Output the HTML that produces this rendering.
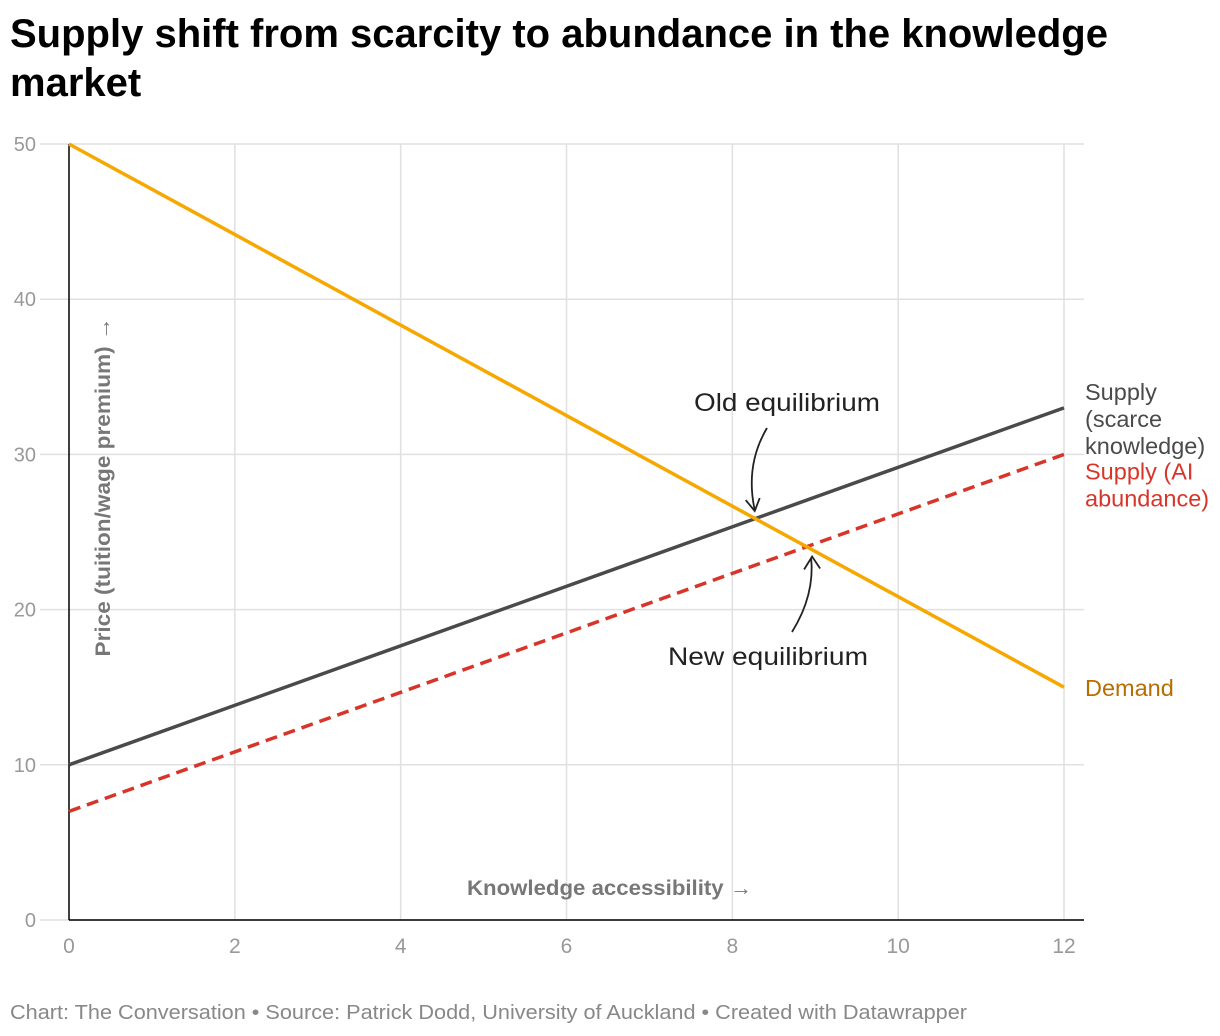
<!DOCTYPE html>
<html><head><meta charset="utf-8"><style>
body{margin:0;background:#fff;width:1220px;height:1036px;overflow:hidden;font-family:"Liberation Sans",sans-serif}
h1{position:absolute;left:10px;top:10px;margin:0;font-size:40px;line-height:49px;font-weight:bold;color:#000;width:1160px;letter-spacing:0px}
</style></head><body>
<h1>Supply shift from scarcity to abundance in the knowledge market</h1>
<svg id="chart" width="1220" height="1036" style="position:absolute;left:0;top:0"></svg>
<script>
const xTicks=[0,2,4,6,8,10,12];
const yTicks=[0,10,20,30,40,50];
const xs=[0,12];
const demand=[50,15];
const supplyScarce=[10,33];
const supplyAI=[7,30];
const oldEq=[8.27,25.9];
const newEq=[8.95,24.0];
const NS='http://www.w3.org/2000/svg';
const svg=document.getElementById('chart');
const X=v=>69+v*(1064-69)/12;
const Y=v=>920-v*(920-144)/50;
function mk(t,a){const e=document.createElementNS(NS,t);for(const k in a)e.setAttribute(k,a[k]);svg.appendChild(e);return e;}
yTicks.forEach(t=>{
 const l=mk('line',{x1:40,x2:1084,y1:Y(t),y2:Y(t),stroke:'#e0e0e0','stroke-width':1.5});
 
 
 const tx=mk('text',{x:36,y:Y(t)+7,'text-anchor':'end','font-size':20,fill:'#999'});tx.textContent=t;
 
 
});
xTicks.forEach(t=>{
 if(t>0){const l=mk('line',{x1:X(t),x2:X(t),y1:144,y2:920,stroke:'#e0e0e0','stroke-width':1.5});
 
 }
 const tx=mk('text',{x:X(t),y:953,'text-anchor':'middle','font-size':21,fill:'#999'});tx.textContent=t;
 
 
});
let a=mk('line',{x1:69,x2:69,y1:144,y2:920,stroke:'#000','stroke-width':1.5});


a=mk('line',{x1:69,x2:1084,y1:920,y2:920,stroke:'#000','stroke-width':1.5});


function series(vals,color,dash,name){
 const l=mk('line',{x1:X(xs[0]),y1:Y(vals[0]),x2:X(xs[1]),y2:Y(vals[1]),stroke:color,'stroke-width':3.5});
 if(dash)l.setAttribute('stroke-dasharray','12 7');
 
 
}
series(supplyAI,'#d8352a',true,'supply-ai-line');
series(supplyScarce,'#4a4a4a',false,'supply-scarce-line');
series(demand,'#f6a800',false,'demand-line');
function label(lines,x,y,color,name,size,len){
 const t=mk('text',{x:x,y:y,'font-size':size,fill:color});
 lines.forEach((s,i)=>{const ts=document.createElementNS(NS,'tspan');ts.setAttribute('x',x);ts.setAttribute('dy',i?27:0);ts.textContent=s;t.appendChild(ts);});
 if(len){t.setAttribute('textLength',len);t.setAttribute('lengthAdjust','spacingAndGlyphs');}
 
 
}
label(['Supply','(scarce','knowledge)'],1085,Y(supplyScarce[1])-8,'#4a4a4a','supply-scarce-label',23.5);
label(['Supply (AI','abundance)'],1085,Y(supplyAI[1])+25,'#d8352a','supply-ai-label',23.5);
label(['Demand'],1085,Y(demand[1])+9,'#b86d00','demand-label',23.5);
label(['Old equilibrium'],694,411,'#222','old-equilibrium-label',25,186);
label(['New equilibrium'],668,665,'#222','new-equilibrium-label',25,200);
let p=mk('path',{d:`M767 428 Q745 465 ${X(oldEq[0])} ${Y(oldEq[1])-8}`,fill:'none',stroke:'#222','stroke-width':1.8});


p=mk('path',{d:`M${X(oldEq[0])-9} ${Y(oldEq[1])-18} L${X(oldEq[0])} ${Y(oldEq[1])-7} L${X(oldEq[0])+5} ${Y(oldEq[1])-20}`,fill:'none',stroke:'#222','stroke-width':1.8});
p=mk('path',{d:`M792 632 Q815 595 ${X(newEq[0])} ${Y(newEq[1])+10}`,fill:'none',stroke:'#222','stroke-width':1.8});


p=mk('path',{d:`M${X(newEq[0])-7} ${Y(newEq[1])+22} L${X(newEq[0])+1} ${Y(newEq[1])+9} L${X(newEq[0])+9} ${Y(newEq[1])+21}`,fill:'none',stroke:'#222','stroke-width':1.8});
let t=mk('text',{x:0,y:0,'font-size':21,'font-weight':'bold',fill:'#777','text-anchor':'middle',transform:'translate(110,487) rotate(-90)',textLength:339,lengthAdjust:'spacingAndGlyphs'});
t.textContent='Price (tuition/wage premium) →';


t=mk('text',{x:467,y:895,'font-size':21,'font-weight':'bold',fill:'#777',textLength:285,lengthAdjust:'spacingAndGlyphs'});
t.textContent='Knowledge accessibility →';


t=mk('text',{x:10,y:1019,'font-size':20,fill:'#888',textLength:957,lengthAdjust:'spacingAndGlyphs'});
t.textContent='Chart: The Conversation • Source: Patrick Dodd, University of Auckland • Created with Datawrapper';


</script>
</body></html>
